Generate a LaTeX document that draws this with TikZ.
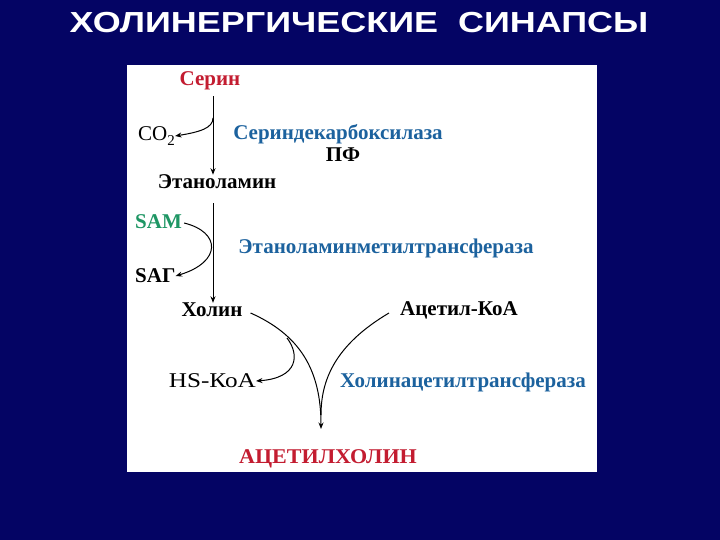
\documentclass[tikz,border=0pt]{standalone}
\usepackage{fontspec}
\setmainfont{Liberation Serif}
\newfontfamily\titlefont{Liberation Sans}[FakeStretch=1.24]
\newfontfamily\widefont{Liberation Serif}[FakeStretch=1.2]
\newfontfamily\capsfont{Liberation Serif}[FakeStretch=1.05]
\usetikzlibrary{arrows.meta}
\definecolor{slidebg}{RGB}{4,4,100}
\definecolor{substred}{RGB}{195,28,48}
\definecolor{enzblue}{RGB}{28,98,158}
\definecolor{samgreen}{RGB}{30,150,100}
\tikzset{
    subst/.style={font=\fontsize{21}{23}\selectfont\bfseries, inner sep=0pt},
    enzyme/.style={subst, text=enzblue},
    minor/.style={font=\fontsize{21}{23}\selectfont, inner sep=0pt},
    pathway/.style={line width=1pt, -{Stealth[length=6.5pt,width=5pt]}},
    branch/.style={line width=1pt}
}
\begin{document}
\begin{tikzpicture}[x=1pt, y=-1pt]
    \useasboundingbox (0,0) rectangle (720,540);
    % slide and panel
    \fill[slidebg] (0,0) rectangle (720,540);
    \fill[white] (127,65) rectangle (597,472);

    \node[text=white, font=\titlefont\fontsize{29}{31}\selectfont\bfseries] (title) at (359,23)
        {ХОЛИНЕРГИЧЕСКИЕ\ \ СИНАПСЫ};

    % substances
    \node[subst, text=substred] (serine) at (210,81) {Серин};
    \node[minor, anchor=west] (co2) at (138,136) {CO\raisebox{-0.45ex}{\fontsize{15}{15}\selectfont 2}};
    \node[subst] (ethanolamine) at (217,182) {Этаноламин};
    \node[subst, text=samgreen, anchor=west] (sam) at (135,222) {SAM};
    \node[subst, anchor=west] (sag) at (135,276) {SAГ};
    \node[subst] (choline) at (212,310) {Холин};
    \node[subst] (acetylcoa) at (459,310) {Ацетил-КоА};
    \node[minor, font=\widefont\fontsize{21}{23}\selectfont, anchor=east] (hscoa) at (256,381) {HS-КоА};
    \node[subst, text=substred, font=\capsfont\fontsize{21}{23}\selectfont\bfseries] (ach) at (328,459) {АЦЕТИЛХОЛИН};

    % enzymes
    \node[enzyme] (decarb) at (338,134) {Сериндекарбоксилаза};
    \node[subst] (pf) at (343,155) {ПФ};
    \node[enzyme] (emt) at (386,248) {Этаноламинметилтрансфераза};
    \node[enzyme] (chat) at (463,382) {Холинацетилтрансфераза};

    % junctions
    \coordinate (axis) at (213,0);
    \coordinate (co2fork) at (213,118);
    \coordinate (hsfork) at (287,338);
    \coordinate (achtip) at (321,429);

    % serine -> ethanolamine -> choline
    \draw[pathway] (serine.south -| axis) ++(0,6) -- (ethanolamine.north -| axis);
    \draw[pathway] (co2fork) .. controls (213,128) and (200,132) .. (co2.east);
    \draw[pathway] (ethanolamine.south -| axis) ++(0,14) -- (choline.north -| axis);
    \draw[pathway] (sam.east) ++(2,1) .. controls (221,232) and (222,262) .. (sag.east);

    % choline + acetyl-CoA -> acetylcholine
    \draw[pathway] (choline.east) ++(8,3) .. controls (300,335) and (321,370) .. (achtip);
    \draw[branch] (acetylcoa.west) ++(-11,3) .. controls (335,345) and (321,380) .. (321,415);
    \draw[pathway] (hsfork) .. controls (300,355) and (298,378) .. (hscoa.east);
\end{tikzpicture}
\end{document}
